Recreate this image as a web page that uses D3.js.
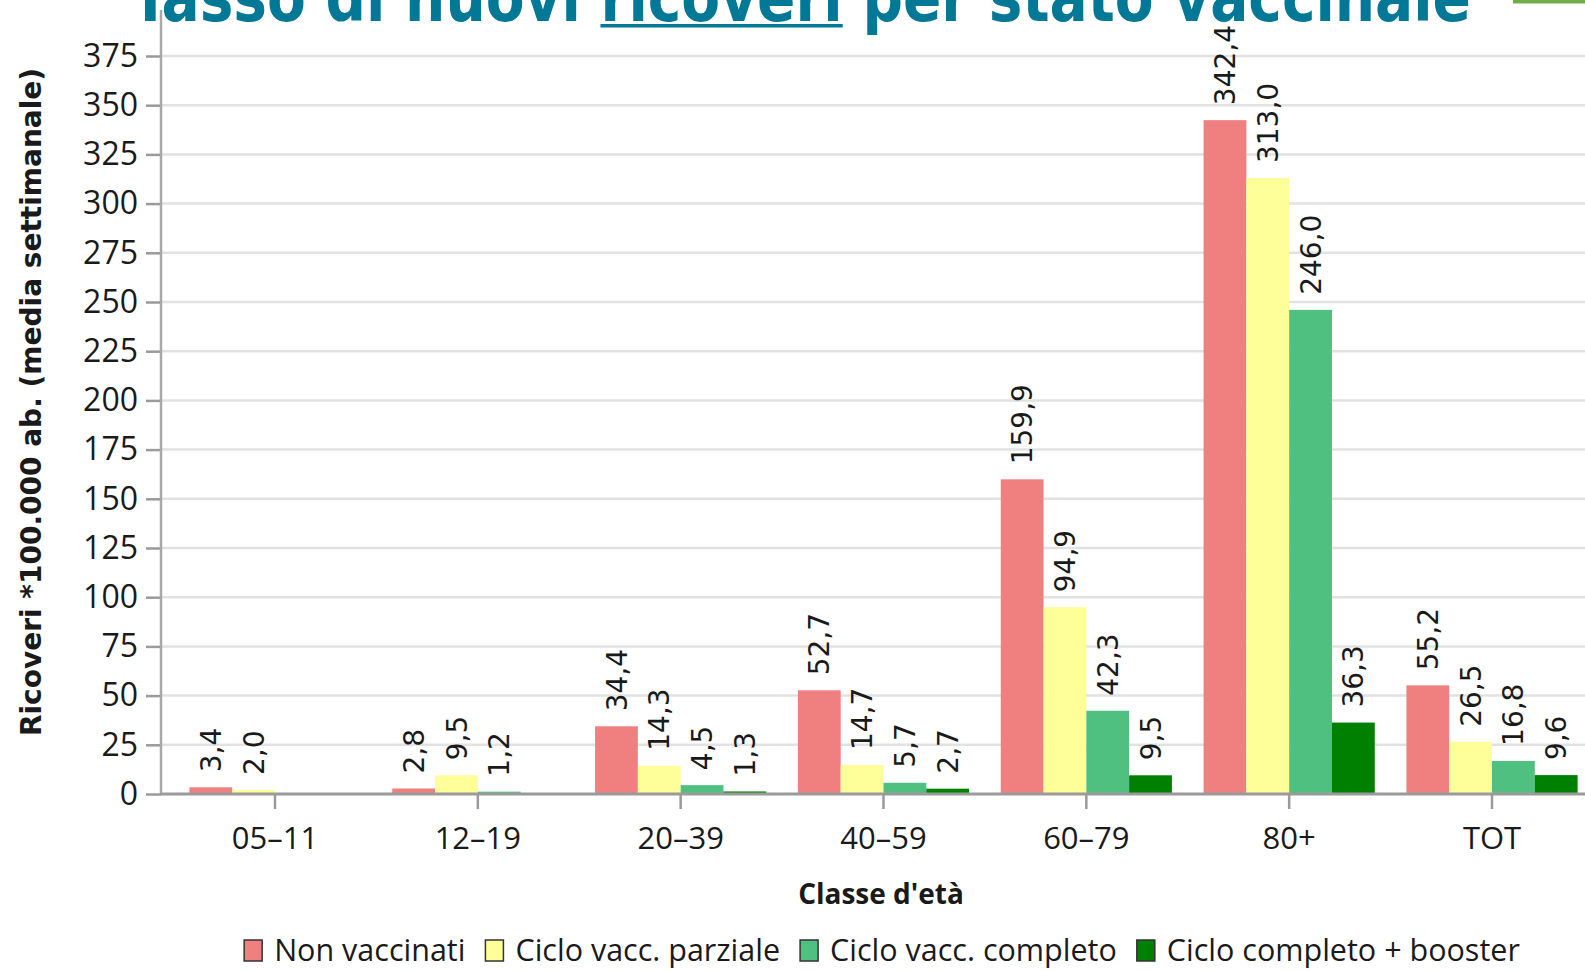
<!DOCTYPE html>
<html>
<head>
<meta charset="utf-8">
<script src="https://cdn.jsdelivr.net/npm/d3@7"></script>
<style>
  html, body { margin: 0; padding: 0; background: #fff; }
  svg { display: block; }
</style>
</head>
<body>
<div id="chart"></div>
<script>
// Tasso di nuovi ricoveri per stato vaccinale - grouped bars

const categories = ['05–11', '12–19', '20–39', '40–59', '60–79', '80+', 'TOT'];
const seriesNames = ['Non vaccinati', 'Ciclo vacc. parziale', 'Ciclo vacc. completo', 'Ciclo completo + booster'];
const seriesColors = ['#f08080', '#ffff99', '#50c080', '#008000'];

// one array per series, one value per category (null = not shown)
const nonVaccinati = [3.4, 2.8, 34.4, 52.7, 159.9, 342.4, 55.2];
const parziale = [2.0, 9.5, 14.3, 14.7, 94.9, 313.0, 26.5];
const completo = [null, 1.2, 4.5, 5.7, 42.3, 246.0, 16.8];
const booster = [null, null, 1.3, 2.7, 9.5, 36.3, 9.6];
const seriesValues = [nonVaccinati, parziale, completo, booster];

const yTicks = [0, 25, 50, 75, 100, 125, 150, 175, 200, 225, 250, 275, 300, 325, 350, 375];

const W = 1585, H = 971;
const axisX = 161, baseY = 794, topY = 56;

const svg = d3.select('#chart').append('svg')
    .attr('width', W)
    .attr('height', H);

const x = d3.scaleBand()
    .domain(categories)
    .range([axisX, 1606])
    .paddingInner(0.156)
    .paddingOuter(0.14);

const xSub = d3.scaleBand()
    .domain(d3.range(seriesNames.length))
    .range([0, x.bandwidth()]);

const y = d3.scaleLinear()
    .domain([0, 375])
    .range([baseY, topY]);

const fmt = v => d3.format('.1f')(v).replace('.', ',');

// gridlines
svg.append('g')
    .selectAll('line')
    .data(yTicks.filter(d => d > 0))
    .join('line')
    .attr('x1', axisX)
    .attr('x2', W)
    .attr('y1', d => y(d))
    .attr('y2', d => y(d))
    .attr('stroke', '#e2e2e2')
    .attr('stroke-width', 2.5);

// bars
const rows = [];
categories.forEach((c, i) => {
    seriesValues.forEach((vals, s) => {
        if (vals[i] != null) rows.push({ cat: c, s: s, v: vals[i] });
    });
});

svg.append('g')
    .selectAll('rect')
    .data(rows)
    .join('rect')
    .attr('x', d => x(d.cat) + xSub(d.s))
    .attr('width', xSub.bandwidth())
    .attr('y', d => y(d.v))
    .attr('height', d => baseY - y(d.v))
    .attr('fill', d => seriesColors[d.s]);

// value labels, rotated
svg.append('g')
    .selectAll('text')
    .data(rows)
    .join('text')
    .attr('transform', d => `translate(${x(d.cat) + xSub(d.s) + xSub.bandwidth() / 2},${y(d.v) - 15}) rotate(-90)`)
    .attr('dy', '0.36em')
    .attr('font-family', 'DejaVu Sans, sans-serif')
    .attr('font-size', 28)
    .attr('fill', '#1a1a1a')
    .text(d => fmt(d.v));

// y axis
const yAxis = svg.append('g')
    .attr('transform', `translate(${axisX},0)`)
    .call(d3.axisLeft(y).tickValues(yTicks).tickSize(15).tickPadding(8));
yAxis.select('.domain').remove();
yAxis.selectAll('.tick line').attr('stroke', '#9a9a9a').attr('stroke-width', 2.5);
yAxis.selectAll('.tick text')
    .attr('font-family', 'Open Sans, sans-serif')
    .attr('font-size', 32)
    .attr('fill', '#1a1a1a');
svg.append('line')
    .attr('x1', axisX).attr('x2', axisX)
    .attr('y1', 10).attr('y2', baseY)
    .attr('stroke', '#a8a8a8')
    .attr('stroke-width', 2.5);

// x axis
const xAxis = svg.append('g')
    .attr('transform', `translate(0,${baseY})`)
    .call(d3.axisBottom(x).tickSize(15).tickPadding(18));
xAxis.select('.domain').remove();
xAxis.selectAll('.tick line').attr('stroke', '#9a9a9a').attr('stroke-width', 2.5);
xAxis.selectAll('.tick text')
    .attr('font-family', 'Open Sans, sans-serif')
    .attr('font-size', 31)
    .attr('fill', '#1a1a1a');
svg.append('line')
    .attr('x1', axisX - 1).attr('x2', W)
    .attr('y1', baseY).attr('y2', baseY)
    .attr('stroke', '#9a9a9a')
    .attr('stroke-width', 3);

// axis titles
svg.append('text')
    .attr('transform', `translate(31,402) rotate(-90)`)
    .attr('text-anchor', 'middle')
    .attr('dy', '0.35em')
    .attr('font-family', 'DejaVu Sans, sans-serif')
    .attr('font-weight', 'bold')
    .attr('font-size', 28)
    .attr('fill', '#1a1a1a')
    .text('Ricoveri *100.000 ab. (media settimanale)');

svg.append('text')
    .attr('x', 881)
    .attr('y', 904)
    .attr('text-anchor', 'middle')
    .attr('font-family', 'Open Sans, sans-serif')
    .attr('font-weight', 'bold')
    .attr('font-size', 28)
    .attr('fill', '#1a1a1a')
    .text("Classe d'età");

// legend
const legend = svg.append('g');
const items = legend.selectAll('g')
    .data(seriesNames)
    .join('g');
items.append('rect')
    .attr('width', 18)
    .attr('height', 21)
    .attr('y', 940)
    .attr('fill', (d, i) => seriesColors[i])
    .attr('stroke', '#333')
    .attr('stroke-width', 1.5);
items.append('text')
    .attr('x', 30)
    .attr('y', 961)
    .attr('font-family', 'Open Sans, sans-serif')
    .attr('font-size', 30.5)
    .attr('fill', '#1a1a1a')
    .text(d => d);
let lx = 0;
const offsets = [];
items.each(function() {
    offsets.push(lx);
    const tw = d3.select(this).select('text').node().getComputedTextLength();
    lx += 30 + tw + 20;
});
const legendW = lx - 20;
const legendX0 = 882 - legendW / 2;
items.attr('transform', (d, i) => `translate(${legendX0 + offsets[i]},0)`);

// title, cut at the top of the picture
const title = svg.append('text')
    .attr('x', 131)
    .attr('y', 21)
    .attr('font-family', 'Liberation Sans Narrow, Arial Narrow, DejaVu Sans Condensed, sans-serif')
    .attr('font-weight', 'bold')
    .attr('font-size', 68)
    .attr('fill', '#007896')
    .attr('textLength', 1340)
    .attr('lengthAdjust', 'spacingAndGlyphs');
title.append('tspan').text('Tasso di nuovi ');
title.append('tspan').text('ricoveri');
title.append('tspan').text(' per stato vaccinale');

const tnode = title.node();
const start = 'Tasso di nuovi '.length;
const end = start + 'ricoveri'.length - 1;
const ux0 = tnode.getStartPositionOfChar(start).x;
const ux1 = tnode.getEndPositionOfChar(end).x;
svg.append('rect')
    .attr('x', ux0)
    .attr('y', 24)
    .attr('width', ux1 - ux0)
    .attr('height', 3.5)
    .attr('fill', '#007896');

// green accent at top right
svg.append('rect')
    .attr('x', 1513)
    .attr('y', 0)
    .attr('width', W - 1513)
    .attr('height', 3.5)
    .attr('fill', '#70ad47');
</script>
</body>
</html>
